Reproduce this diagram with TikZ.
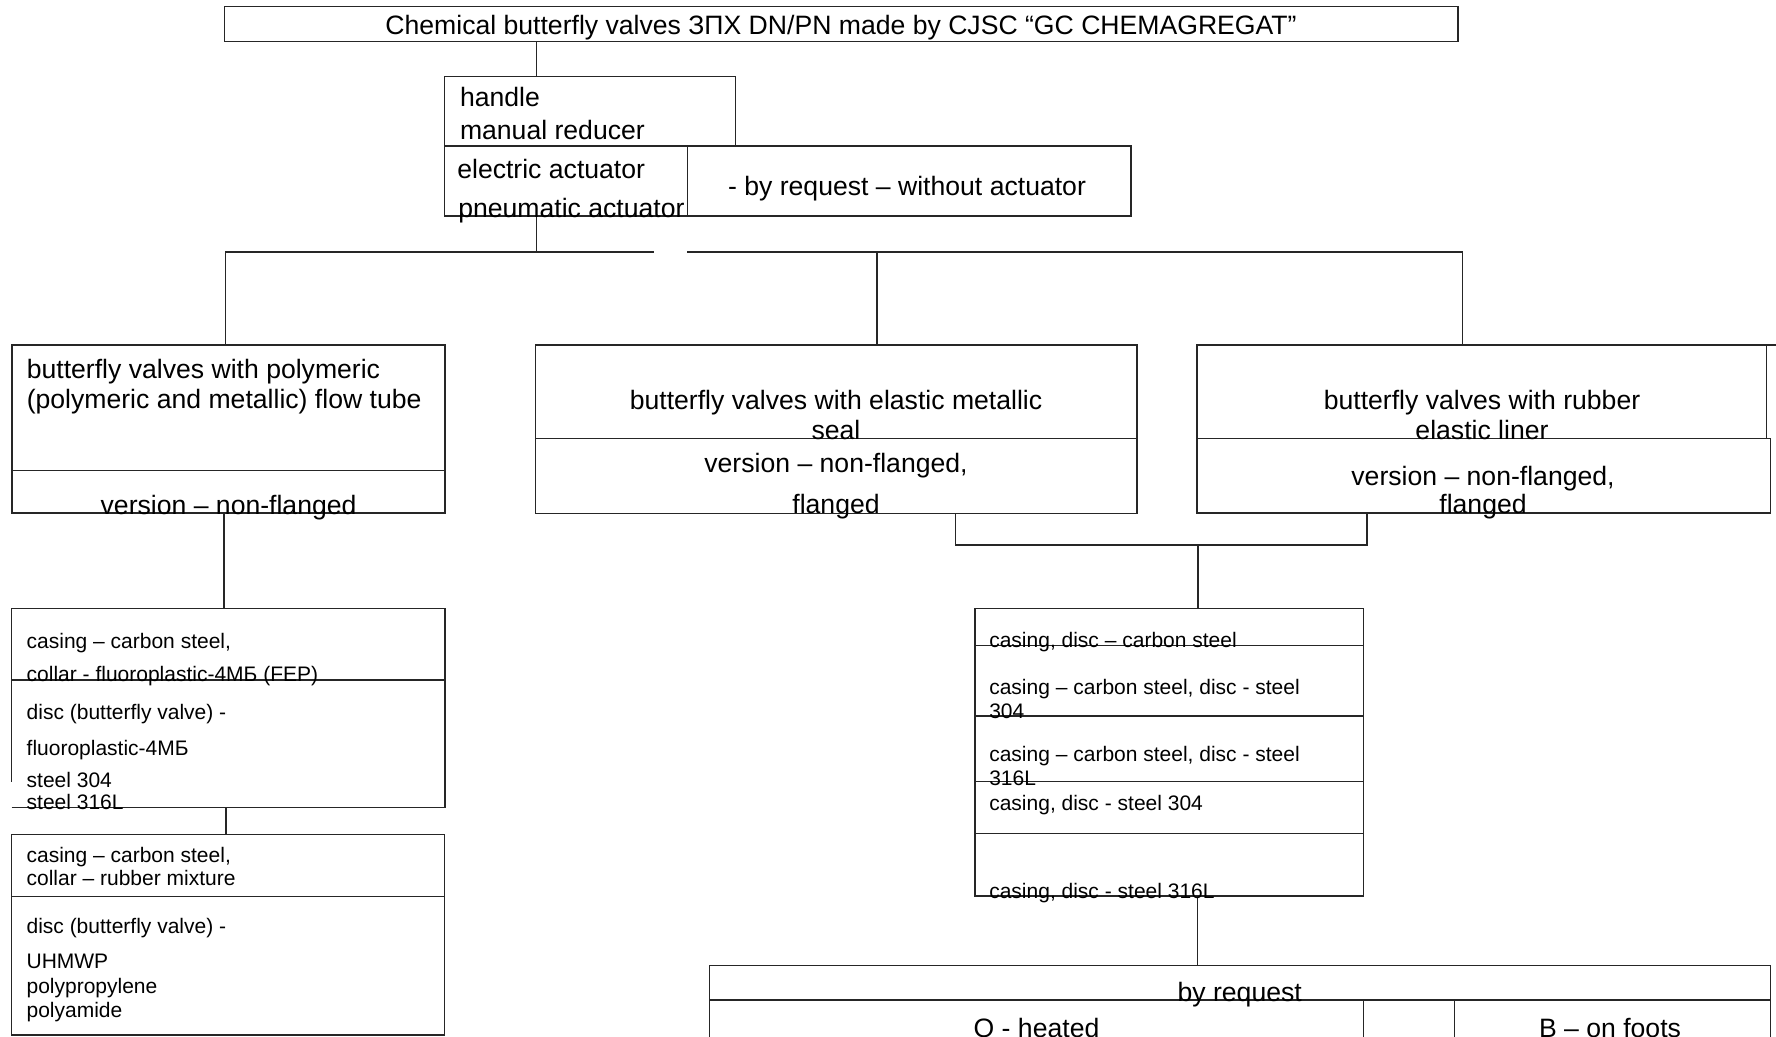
\documentclass[tikz,border=0pt]{standalone}
\usepackage{fontspec}
\setmainfont{Liberation Sans}
\begin{document}
\begin{tikzpicture}[x=1pt,y=-1pt,
  box/.style={draw=black!85, line width=1.5pt, inner sep=0pt, outer sep=0pt, anchor=north west},
  wire/.style={draw=black!85, line width=1.5pt},
  big/.style={font=\fontsize{26.6}{30}\selectfont, inner sep=0pt, outer sep=0pt},
  small/.style={font=\fontsize{21}{24}\selectfont, inner sep=0pt, outer sep=0pt}]
\useasboundingbox (0,0) rectangle (1776,1036);
\fill[white] (0,0) rectangle (1776,1036);
\clip (0,0) rectangle (1776,1036);

% ---------- boxes ----------
\node[box, minimum width=1233.5pt, minimum height=35pt] (title) at (224.5,6.5) {};
\node[box, minimum width=291.4pt, minimum height=69.3pt] (handle) at (444.3,76.7) {};
\node[box, minimum width=243pt, minimum height=70pt] (elec) at (444.3,146) {};
\node[box, minimum width=443.7pt, minimum height=70pt] (req) at (687.3,146) {};

\node[box, minimum width=432.8pt, minimum height=125.3pt] (polyA) at (12.2,345) {};
\node[box, minimum width=432.8pt, minimum height=42.7pt] (polyB) at (12.2,470.3) {};
\node[box, minimum width=601.3pt, minimum height=93.3pt] (midA) at (535.7,345) {};
\node[box, minimum width=601.3pt, minimum height=75pt] (midB) at (535.7,438.3) {};
\node[box, minimum width=569.7pt, minimum height=93.3pt] (rubA) at (1197,345) {};
\node[box, minimum width=573.7pt, minimum height=74.7pt] (rubB) at (1197,438.3) {};
\draw[wire] (rubA.north east) -- ++(10,0);

\node[box, minimum width=433.3pt, minimum height=71.7pt] (llA) at (11.7,608.3) {};
\node[box, draw=none, minimum width=433.3pt, minimum height=127.3pt] (llB) at (11.7,680) {};
\draw[wire] (llB.south west) -- (llB.south east) -- (llB.north east);
\draw[wire] (llB.north west) -- ++(0,102);
\node[box, minimum width=432.9pt, minimum height=62.4pt] (lmA) at (11.5,834.3) {};
\node[box, minimum width=432.9pt, minimum height=138.3pt] (lmB) at (11.5,896.7) {};

\node[box, minimum width=388.3pt, minimum height=37pt] (s1) at (975,608.3) {};
\node[box, minimum width=388.3pt, minimum height=70.7pt] (s2) at (975,645.3) {};
\node[box, minimum width=388.3pt, minimum height=65.7pt] (s3) at (975,716) {};
\node[box, minimum width=388.3pt, minimum height=52pt] (s4) at (975,781.7) {};
\node[box, minimum width=388.3pt, minimum height=62.3pt] (s5) at (975,833.7) {};

\node[box, minimum width=1061pt, minimum height=34.3pt] (botA) at (709.4,965.7) {};
\node[box, minimum width=654.2pt, minimum height=45pt] (botB1) at (709.4,1000) {};
\node[box, minimum width=90.8pt, minimum height=45pt] (botB2) at (1363.6,1000) {};
\node[box, minimum width=316pt, minimum height=45pt] (botB3) at (1454.4,1000) {};

% ---------- connectors ----------
\coordinate (j1) at (536.7,0);
\coordinate (busL) at (225.6,252);
\coordinate (gapL) at (654,252);
\coordinate (gapR) at (687,252);
\coordinate (busR) at (1462.6,252);
\coordinate (jm) at (877,252);
\draw[wire] (title.south -| j1) -- (handle.north -| j1);
\draw[wire] (elec.south -| j1) -- (j1 |- busL);
\draw[wire] (polyA.north -| busL) -- (busL) -- (gapL);
\draw[wire] (gapR) -- (busR) -- (rubA.north -| busR);
\draw[wire] (jm) -- (midA.north -| jm);
\coordinate (j2) at (224,0);
\draw[wire] (polyB.south -| j2) -- (llA.north -| j2);
\coordinate (j3) at (226,0);
\draw[wire] (llB.south -| j3) -- (lmA.north -| j3);
\coordinate (k1) at (955.4,545);
\coordinate (k2) at (1366.8,545);
\coordinate (k3) at (1198,545);
\draw[wire] (midB.south -| k1) -- (k1) -- (k2) -- (rubB.south -| k2);
\draw[wire] (k3) -- (s1.north -| k3);
\coordinate (j4) at (1197.7,0);
\draw[wire] (s5.south -| j4) -- (botA.north -| j4);

% ---------- texts ----------
\begin{scope}[yshift=-2pt]
\node[big, anchor=base] (t0) at (841,32) {Chemical butterfly valves ЗПХ DN/PN made by CJSC “GC CHEMAGREGAT”};
\node[big, anchor=base west] (t1) at (460,104) {handle};
\node[big, anchor=base west] (t2) at (460,137.7) {manual reducer};
\node[big, anchor=base west] (t3) at (457.3,176.7) {electric actuator};
\node[big, anchor=base west] (t4) at (458.3,215) {pneumatic actuator};
\node[big, anchor=base] (t5) at (907,193) {- by request – without actuator};

\node[big, anchor=base west] (p1) at (26.8,376.7) {butterfly valves with polymeric};
\node[big, anchor=base west] (p2) at (26.8,406.7) {(polymeric and metallic) flow tube};
\node[big, anchor=base] (p3) at (228.6,512.5) {version – non-flanged};

\node[big, anchor=base] (m1) at (836,407) {butterfly valves with elastic metallic};
\node[big, anchor=base] (m2) at (836,437.5) {seal};
\node[big, anchor=base] (m3) at (836,470) {version – non-flanged,};
\node[big, anchor=base] (m4) at (836,511.5) {flanged};

\node[big, anchor=base] (r1) at (1482,407.5) {butterfly valves with rubber};
\node[big, anchor=base] (r2) at (1482,437.5) {elastic liner};
\node[big, anchor=base] (r3) at (1483,483.5) {version – non-flanged,};
\node[big, anchor=base] (r4) at (1483,511.7) {flanged};

\node[small, anchor=base west] (a1) at (26.7,646.7) {casing – carbon steel,};
\node[small, anchor=base west] (a2) at (26.7,679.5) {collar - fluoroplastic-4МБ (FEP)};
\node[small, anchor=base west] (a3) at (26.7,717) {disc (butterfly valve) -};
\node[small, anchor=base west] (a4) at (26.7,753) {fluoroplastic-4МБ};
\node[small, anchor=base west] (a5) at (26.7,785) {steel 304};
\node[small, anchor=base west] (a6) at (26.7,807) {steel 316L};

\node[small, anchor=base west] (b1) at (26.6,860) {casing – carbon steel,};
\node[small, anchor=base west] (b2) at (26.6,883.3) {collar – rubber mixture};
\node[small, anchor=base west] (b3) at (26.6,931.7) {disc (butterfly valve) -};
\node[small, anchor=base west] (b4) at (26.6,966) {UHMWP};
\node[small, anchor=base west] (b5) at (26.6,991.7) {polypropylene};
\node[small, anchor=base west] (b6) at (26.6,1015) {polyamide};

\node[small, anchor=base west] (c1) at (989.3,645.5) {casing, disc – carbon steel};
\node[small, anchor=base west] (c2) at (989.3,692) {casing – carbon steel, disc - steel};
\node[small, anchor=base west] (c3) at (989.3,716.5) {304};
\node[small, anchor=base west] (c4) at (989.3,759) {casing – carbon steel, disc - steel};
\node[small, anchor=base west] (c5) at (989.3,783) {316L};
\node[small, anchor=base west] (c6) at (989.3,808.5) {casing, disc - steel 304};
\node[small, anchor=base west] (c7) at (989.3,896) {casing, disc - steel 316L};

\node[big, anchor=base] (d1) at (1239.7,999.5) {by request};
\node[big, anchor=base] (d2) at (1036.5,1035) {O - heated};
\node[big, anchor=base] (d3) at (1610,1035) {B – on foots};
\end{scope}
\end{tikzpicture}
\end{document}
